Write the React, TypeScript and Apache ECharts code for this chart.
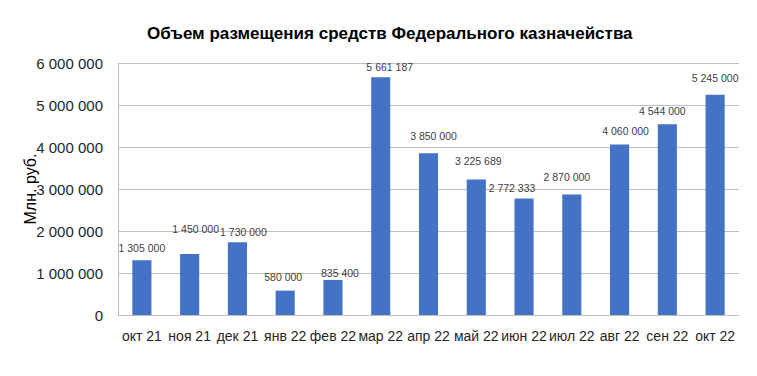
import React, { useEffect, useRef } from "react";
import * as echarts from "echarts";

const categories = ["окт 21", "ноя 21", "дек 21", "янв 22", "фев 22", "мар 22", "апр 22", "май 22", "июн 22", "июл 22", "авг 22", "сен 22", "окт 22"];
const values = [1305000, 1450000, 1730000, 580000, 835400, 5661187, 3850000, 3225689, 2772333, 2870000, 4060000, 4544000, 5245000];
const labelOffsets = [[0, -2], [6, -15], [6, 0], [-2, -3], [7, 4], [9, 0], [5, -7], [2, -8], [-12, 0], [-5, -7], [6, -3], [-5, -3], [0, -6]];
const titleText = "Объем размещения средств Федерального казначейства";
const yAxisName = "Млн. руб.";

const fmt = (v: number) => String(v).replace(/\B(?=(\d{3})+(?!\d))/g, " ");

export default function App() {
  const ref = useRef<HTMLDivElement>(null);
  useEffect(() => {
    document.body.style.margin = "0";
    const chart = echarts.init(ref.current!, null, { renderer: "svg" });
    chart.setOption({
      animation: false,
      backgroundColor: "#ffffff",
      title: {
        text: titleText,
        left: 142,
        top: 20,
        textStyle: { fontFamily: "Liberation Sans", fontSize: 17, fontWeight: "bold", color: "#000000" },
      },
      grid: { left: 118, right: 18, top: 63, bottom: 61 },
      xAxis: {
        type: "category",
        data: categories,
        axisLine: { show: true, lineStyle: { color: "#bfbfbf", width: 1 } },
        axisTick: { show: false },
        axisLabel: { fontFamily: "Liberation Sans", fontSize: 14, color: "#262626", margin: 14, interval: 0 },
      },
      yAxis: {
        type: "value",
        min: 0,
        max: 6000000,
        interval: 1000000,
        name: yAxisName,
        nameLocation: "middle",
        nameGap: 80,
        nameRotate: 90,
        nameMoveOverlap: false,
        nameTextStyle: { fontFamily: "Liberation Sans", fontSize: 16, color: "#000000", padding: [0, 0, 0, 0] },
        axisLine: { show: true, lineStyle: { color: "#bfbfbf", width: 1 } },
        axisTick: { show: false },
        splitLine: { show: true, lineStyle: { color: "#bfbfbf", width: 1 } },
        axisLabel: {
          fontFamily: "Liberation Sans",
          fontSize: 15,
          color: "#262626",
          margin: 15,
          formatter: (v: number) => fmt(v),
        },
      },
      series: [
        {
          type: "bar",
          barWidth: "40%",
          itemStyle: { color: "#4472C4" },
          data: values.map((v, i) => ({
            value: v,
            label: {
              show: true,
              position: "top",
              distance: 5,
              offset: labelOffsets[i],
              fontFamily: "Liberation Sans",
              fontSize: 10.5,
              color: "#404040",
              formatter: () => fmt(v),
            },
          })),
        },
      ],
    });
    return () => chart.dispose();
  }, []);
  return <div ref={ref} style={{ width: 757, height: 376 }} />;
}
